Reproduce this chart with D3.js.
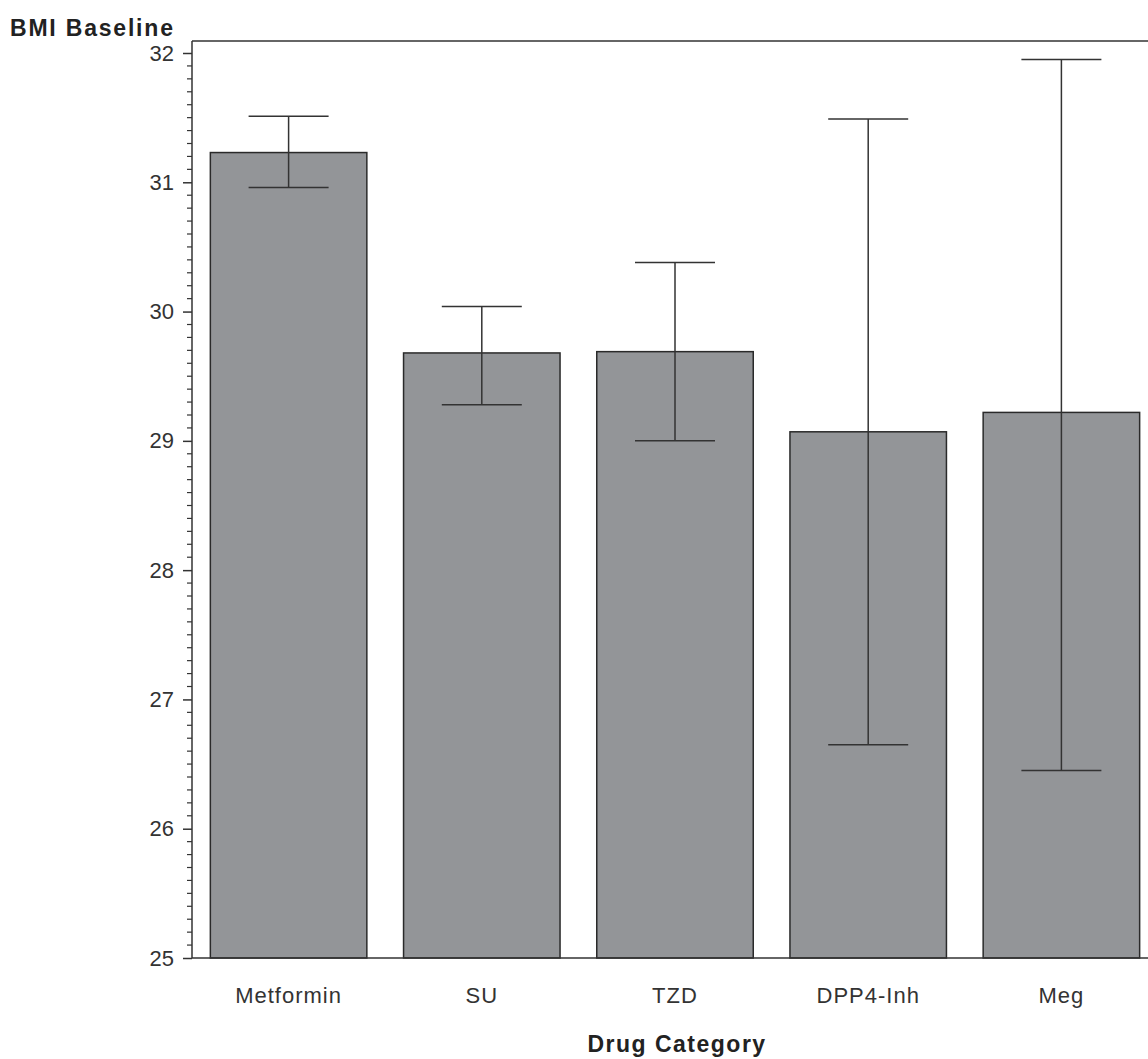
<!DOCTYPE html>
<html>
<head>
<meta charset="utf-8">
<script src="https://cdn.jsdelivr.net/npm/d3@7"></script>
<style>
  body { margin: 0; background: #fff; }
  svg { display: block; font-family: "Liberation Sans", Arial, sans-serif; }
</style>
</head>
<body>
<svg id="chart" width="1148" height="1059"></svg>
<script>
const categories = ['Metformin', 'SU', 'TZD', 'DPP4-Inh', 'Meg'];
const means = [31.23, 29.68, 29.69, 29.07, 29.22];
const upper = [31.51, 30.04, 30.38, 31.49, 31.95];
const lower = [30.96, 29.28, 29.00, 26.65, 26.45];
const yTicks = [25, 26, 27, 28, 29, 30, 31, 32];

const svg = d3.select('#chart');
const plotLeft = 192, plotBottom = 958, plotTop = 41;

// Add X scale
const x = d3.scaleBand().domain(categories).range([plotLeft, plotLeft + 5 * 193.2])
    .paddingInner(0.19).paddingOuter(0.095);

// Add Y scale
const y = d3.scaleLinear().domain([25, 32]).range([plotBottom, 53]);

const ink = '#333';

// frame
svg.append('line').attr('x1', plotLeft).attr('x2', 1160).attr('y1', plotTop).attr('y2', plotTop)
    .attr('stroke', ink).attr('stroke-width', 1.5);

// minor ticks
const minor = d3.range(250, 320).map(d => d / 10).filter(d => Math.round(d * 10) % 10 !== 0);
svg.append('g').selectAll('line').data(minor).enter().append('line')
    .attr('x1', plotLeft - 5).attr('x2', plotLeft)
    .attr('y1', d => y(d)).attr('y2', d => y(d))
    .attr('stroke', ink).attr('stroke-width', 1.2);

// Y axis
const yAxis = svg.append('g').attr('transform', `translate(${plotLeft},0)`)
    .call(d3.axisLeft(y).tickValues(yTicks).tickFormat(d3.format('d')).tickSize(9).tickPadding(9).tickSizeOuter(0));
yAxis.select('.domain').remove();
yAxis.selectAll('line').attr('stroke', ink).attr('stroke-width', 1.5);
yAxis.selectAll('text').attr('font-size', 22).attr('fill', '#333')
    .attr('font-family', '"Liberation Sans", Arial, sans-serif');
svg.append('line').attr('x1', plotLeft).attr('x2', plotLeft).attr('y1', plotTop).attr('y2', plotBottom)
    .attr('stroke', ink).attr('stroke-width', 1.5);

// bars
svg.append('g').selectAll('rect').data(categories).enter().append('rect')
    .attr('x', d => x(d))
    .attr('width', x.bandwidth())
    .attr('y', (d, i) => y(means[i]))
    .attr('height', (d, i) => plotBottom - y(means[i]))
    .attr('fill', '#939598')
    .attr('stroke', '#2a2a2a')
    .attr('stroke-width', 1.5);

// X axis line
svg.append('line').attr('x1', plotLeft).attr('x2', 1160).attr('y1', plotBottom).attr('y2', plotBottom)
    .attr('stroke', ink).attr('stroke-width', 1.5);

// error bars
const err = svg.append('g').attr('stroke', ink).attr('stroke-width', 1.5);
categories.forEach((c, i) => {
    const cx = x(c) + x.bandwidth() / 2;
    err.append('line').attr('x1', cx).attr('x2', cx).attr('y1', y(upper[i])).attr('y2', y(lower[i]));
    err.append('line').attr('x1', cx - 40).attr('x2', cx + 40).attr('y1', y(upper[i])).attr('y2', y(upper[i]));
    err.append('line').attr('x1', cx - 40).attr('x2', cx + 40).attr('y1', y(lower[i])).attr('y2', y(lower[i]));
});

// category labels
svg.append('g').selectAll('text').data(categories).enter().append('text')
    .text(d => d)
    .attr('x', d => x(d) + x.bandwidth() / 2)
    .attr('y', 1003)
    .attr('text-anchor', 'middle')
    .attr('font-size', 22)
    .attr('letter-spacing', 1)
    .attr('fill', '#333');

// axis titles
svg.append('text').text('BMI Baseline').attr('x', 10).attr('y', 36)
    .attr('font-size', 23).attr('font-weight', 'bold').attr('letter-spacing', 1.8).attr('fill', '#222');
svg.append('text').text('Drug Category').attr('x', 677).attr('y', 1052)
    .attr('text-anchor', 'middle')
    .attr('font-size', 23).attr('font-weight', 'bold').attr('letter-spacing', 1.5).attr('fill', '#222');
</script>
</body>
</html>
